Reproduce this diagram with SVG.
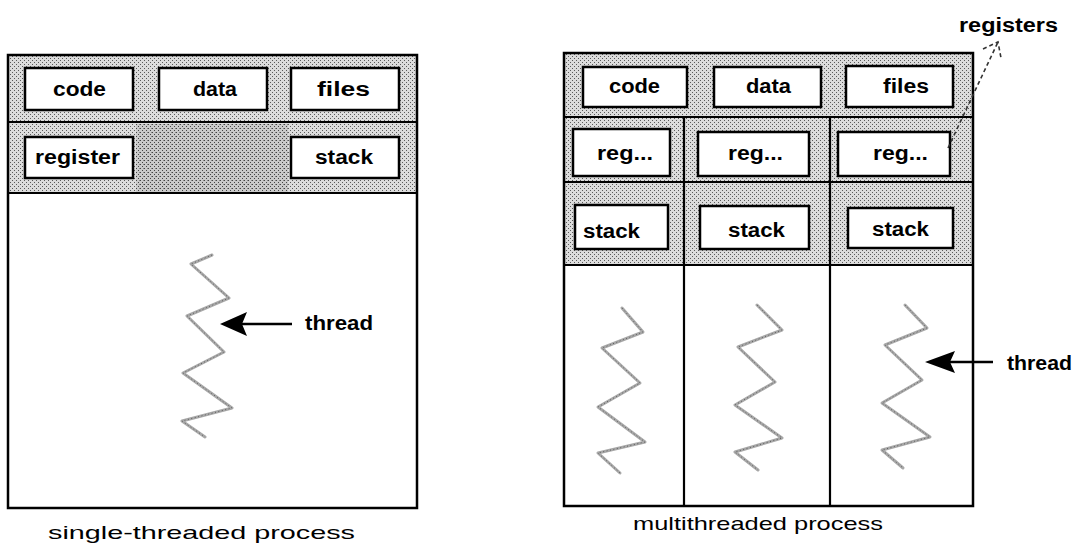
<svg xmlns="http://www.w3.org/2000/svg" width="1085" height="552" viewBox="0 0 1085 552">
  <defs>
    <!-- halftone grey used for the shared resource rows -->
    <pattern id="tone" width="4" height="4" patternUnits="userSpaceOnUse">
      <rect width="4" height="4" fill="#dcdcdc"/>
      <rect x="0" y="0" width="1" height="1" fill="#5a5a5a"/>
      <rect x="2" y="2" width="1" height="1" fill="#5a5a5a"/>
    </pattern>
    <pattern id="toneDark" width="4" height="4" patternUnits="userSpaceOnUse">
      <rect width="4" height="4" fill="#cacaca"/>
      <rect x="0" y="0" width="1" height="1" fill="#444"/>
      <rect x="2" y="2" width="1" height="1" fill="#444"/>
      <rect x="3" y="0" width="1" height="1" fill="#888"/>
    </pattern>
    <style>
      .frame { fill: none; stroke: #000; stroke-width: 2.5; }
      .rule { stroke: #000; stroke-width: 2.2; }
      .box { fill: #fff; stroke: #000; stroke-width: 2.5; }
      .lbl { font-family: "Liberation Sans", Arial, sans-serif; font-size: 20px; font-weight: bold; fill: #000; }
      .cap { font-family: "Liberation Sans", Arial, sans-serif; font-size: 19px; fill: #000; }
      .thread { fill: none; stroke: #a8a8a8; stroke-width: 3; stroke-linejoin: round; stroke-linecap: round; }
      .threadDots { fill: none; stroke: #5c5c5c; stroke-width: 1; stroke-dasharray: 1 2.5; }
      .pointer { stroke: #000; stroke-width: 2.5; }
      .head { fill: #000; }
      .dash { fill: none; stroke: #333; stroke-width: 1.6; stroke-dasharray: 4 3; }
    </style>
  </defs>

  <!-- single-threaded process -->
  <g id="single-process">
    <rect x="8" y="55" width="409" height="138" fill="url(#tone)"/>
    <rect x="136" y="124" width="152" height="68" fill="url(#toneDark)"/>
    <rect class="frame" x="8" y="55" width="409" height="453"/>
    <line class="rule" x1="8" y1="122" x2="417" y2="122"/>
    <line class="rule" x1="8" y1="193" x2="417" y2="193" stroke-width="3"/>
    <polyline class="thread" points="212,255 191,264 229,298 187,316 224,352 183,373 232,408 182,421 205,437"/>
    <polyline class="threadDots" points="212,255 191,264 229,298 187,316 224,352 183,373 232,408 182,421 205,437"/>
    <text class="cap" x="48" y="539" textLength="307" lengthAdjust="spacingAndGlyphs">single-threaded process</text>
  </g>
  <g id="s-code"><rect class="box" x="25" y="68" width="108" height="42"/><text class="lbl" x="53" y="96" textLength="53" lengthAdjust="spacingAndGlyphs">code</text></g>
  <g id="s-data"><rect class="box" x="159" y="68" width="108" height="42"/><text class="lbl" x="193" y="96" textLength="44" lengthAdjust="spacingAndGlyphs">data</text></g>
  <g id="s-files"><rect class="box" x="291" y="68" width="108" height="42"/><text class="lbl" x="317" y="96" textLength="53" lengthAdjust="spacingAndGlyphs">files</text></g>
  <g id="s-register"><rect class="box" x="25" y="137" width="108" height="41"/><text class="lbl" x="35" y="164" textLength="85" lengthAdjust="spacingAndGlyphs">register</text></g>
  <g id="s-stack"><rect class="box" x="291" y="137" width="108" height="41"/><text class="lbl" x="315" y="164" textLength="58" lengthAdjust="spacingAndGlyphs">stack</text></g>
  <g id="s-thread-label"><text class="lbl" x="305" y="330" textLength="68" lengthAdjust="spacingAndGlyphs">thread</text></g>

  <!-- multithreaded process -->
  <g id="multi-process">
    <rect x="564" y="53" width="409" height="212" fill="url(#tone)"/>
    <rect class="frame" x="564" y="53" width="409" height="453"/>
    <line class="rule" x1="564" y1="117" x2="973" y2="117"/>
    <line class="rule" x1="564" y1="182" x2="973" y2="182"/>
    <line class="rule" x1="564" y1="265" x2="973" y2="265"/>
    <line class="rule" x1="684" y1="117" x2="684" y2="506"/>
    <line class="rule" x1="830" y1="117" x2="830" y2="506"/>
    <polyline class="thread" points="622,308 643,332 602,348 640,383 598,407 645,442 598,453 620,473"/>
    <polyline class="threadDots" points="622,308 643,332 602,348 640,383 598,407 645,442 598,453 620,473"/>
    <polyline class="thread" points="757,305 782,330 738,347 775,382 735,405 782,438 735,452 758,470"/>
    <polyline class="threadDots" points="757,305 782,330 738,347 775,382 735,405 782,438 735,452 758,470"/>
    <polyline class="thread" points="905,305 927,328 885,345 922,380 882,403 930,437 882,450 903,468"/>
    <polyline class="threadDots" points="905,305 927,328 885,345 922,380 882,403 930,437 882,450 903,468"/>
    <text class="cap" x="633" y="530" textLength="250" lengthAdjust="spacingAndGlyphs">multithreaded process</text>
  </g>
  <g id="m-code"><rect class="box" x="583" y="67" width="104" height="40"/><text class="lbl" x="609" y="93" textLength="51" lengthAdjust="spacingAndGlyphs">code</text></g>
  <g id="m-data"><rect class="box" x="714" y="67" width="107" height="40"/><text class="lbl" x="746" y="93" textLength="45" lengthAdjust="spacingAndGlyphs">data</text></g>
  <g id="m-files"><rect class="box" x="846" y="66" width="107" height="41"/><text class="lbl" x="883" y="93" textLength="46" lengthAdjust="spacingAndGlyphs">files</text></g>
  <g id="m-reg-1"><rect class="box" x="573" y="129" width="97" height="47"/><text class="lbl" x="597" y="160" textLength="56" lengthAdjust="spacingAndGlyphs">reg...</text></g>
  <g id="m-reg-2"><rect class="box" x="698" y="132" width="111" height="44"/><text class="lbl" x="728" y="160" textLength="55" lengthAdjust="spacingAndGlyphs">reg...</text></g>
  <g id="m-reg-3"><rect class="box" x="838" y="132" width="112" height="44"/><text class="lbl" x="873" y="160" textLength="55" lengthAdjust="spacingAndGlyphs">reg...</text></g>
  <g id="m-stack-1"><rect class="box" x="575" y="205" width="93" height="44"/><text class="lbl" x="583" y="238" textLength="57" lengthAdjust="spacingAndGlyphs">stack</text></g>
  <g id="m-stack-2"><rect class="box" x="700" y="206" width="109" height="43"/><text class="lbl" x="728" y="237" textLength="57" lengthAdjust="spacingAndGlyphs">stack</text></g>
  <g id="m-stack-3"><rect class="box" x="848" y="208" width="105" height="40"/><text class="lbl" x="872" y="236" textLength="57" lengthAdjust="spacingAndGlyphs">stack</text></g>
  <g id="m-thread-label"><text class="lbl" x="1007" y="370" textLength="65" lengthAdjust="spacingAndGlyphs">thread</text></g>
  <g id="m-registers-label"><text class="lbl" x="959" y="32" textLength="99" lengthAdjust="spacingAndGlyphs">registers</text></g>

  <!-- pointers -->
  <g id="connectors">
    <line class="pointer" x1="241" y1="324" x2="292" y2="324"/>
    <polygon class="head" points="220,324 247,312 242,324 247,336"/>
    <line class="pointer" x1="949" y1="362" x2="993" y2="362"/>
    <polygon class="head" points="925,362 955,351 950,362 955,373"/>
    <line class="dash" x1="948" y1="148" x2="998" y2="42"/>
    <polyline class="dash" points="983,49 998,42 1001,58" stroke-dasharray="3 2"/>
  </g>
</svg>
